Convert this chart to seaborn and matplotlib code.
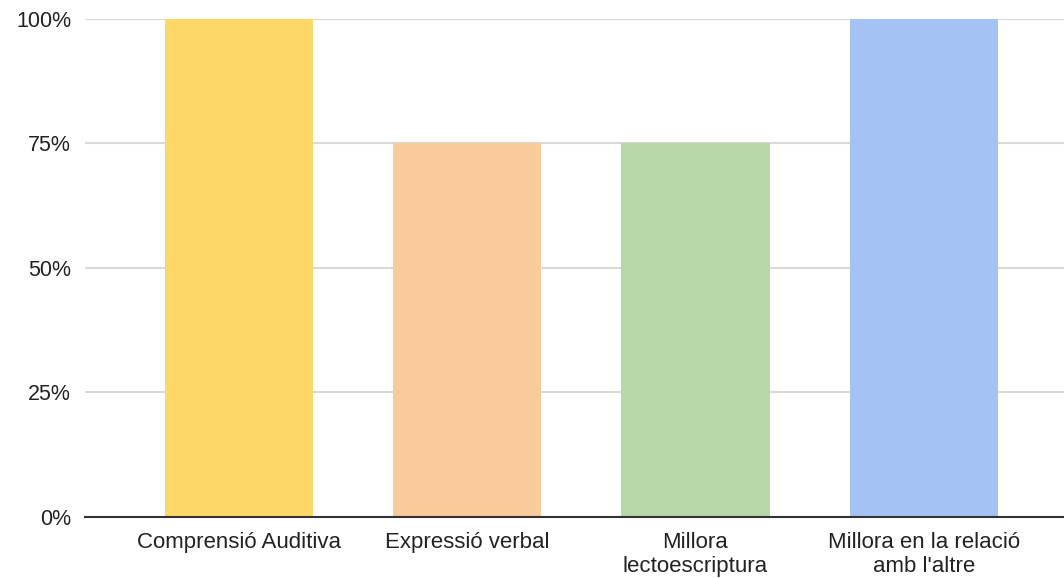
import numpy as np
import pandas as pd
import matplotlib
matplotlib.use("Agg")
import matplotlib.pyplot as plt
import seaborn as sns
from matplotlib.ticker import PercentFormatter

# dades
categories = ["Comprensió Auditiva", "Expressió verbal",
              "Millora\nlectoescriptura", "Millora en la relació\namb l'altre"]
values = [100, 75, 75, 100]
colors = ["#FDD868", "#F8CA9C", "#B7D7A8", "#A5C2F4"]
yticks = [0, 25, 50, 75, 100]

df = pd.DataFrame({"categoria": categories, "valor": values})

sns.set_theme(style="white")
plt.rcParams["font.family"] = ["Liberation Sans", "DejaVu Sans"]

fig = plt.figure(figsize=(10.64, 5.78), dpi=100)
ax = fig.add_axes([0.0799, 0.1055, 0.933, 0.862])

sns.barplot(data=df, x="categoria", y="valor", hue="categoria",
            palette=colors, width=0.65, saturation=1, legend=False, ax=ax,
            linewidth=0, zorder=3)

ax.set_xlim(-0.675, 3.675)
ax.set_ylim(0, 100)
ax.set_yticks(yticks)
ax.yaxis.set_major_formatter(PercentFormatter(decimals=0))
ax.grid(axis="y", color="#d9d9d9", linewidth=1.5, zorder=0)
ax.set_axisbelow(True)

for s in ["top", "right", "left"]:
    ax.spines[s].set_visible(False)
ax.spines["bottom"].set_color("#333333")
ax.spines["bottom"].set_linewidth(1.5)
ax.spines["bottom"].set_zorder(4)

ax.tick_params(axis="both", length=0, labelcolor="#222222")
ax.tick_params(axis="y", pad=10, labelsize=15.5)
ax.tick_params(axis="x", pad=11, labelsize=16)
for lbl in ax.get_xticklabels():
    lbl.set_linespacing(1.15)
ax.set_xlabel("")
ax.set_ylabel("")

fig.savefig("out.png", dpi=100)
